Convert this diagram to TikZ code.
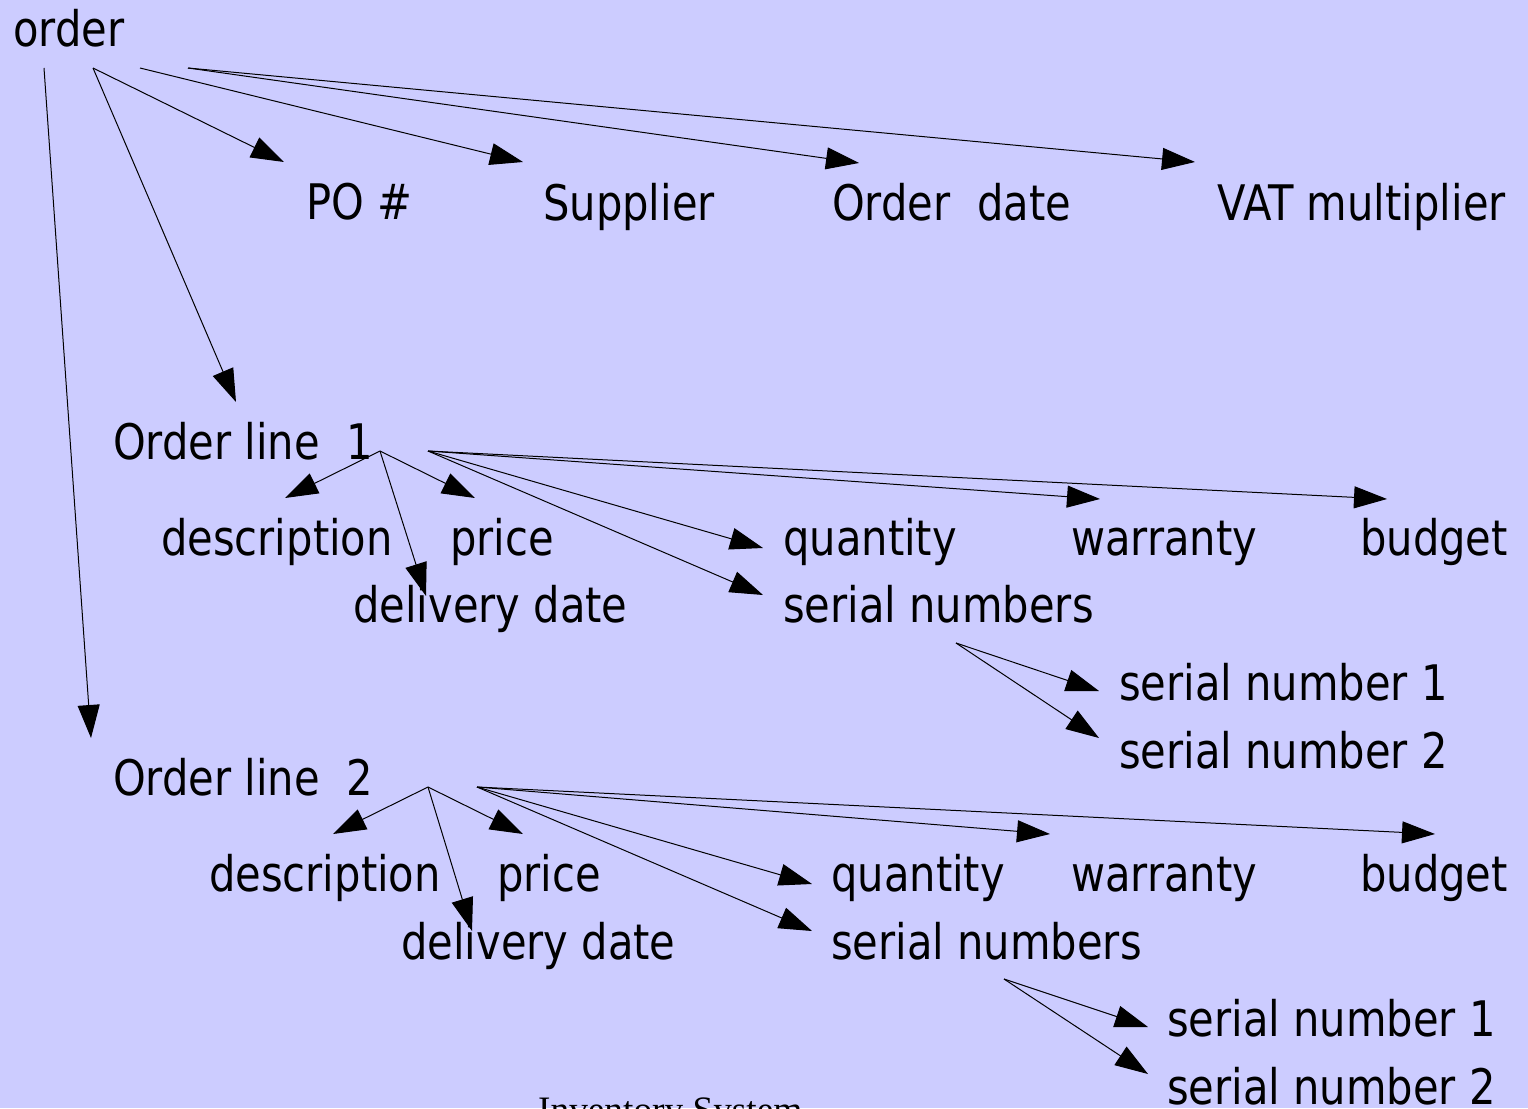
\documentclass[tikz,border=0pt]{standalone}
\usepackage{fontspec}
\setmainfont{DejaVu Sans}[FakeStretch=0.85]
\newfontfamily\seriffont{Liberation Serif}
\usetikzlibrary{arrows.meta}
\definecolor{bg}{HTML}{CCCCFF}
\begin{document}
\begin{tikzpicture}[x=1pt,y=-1pt,
  lbl/.style={anchor=base west,inner sep=0pt,font=\fontsize{49}{49}\selectfont},
  arr/.style={-{Triangle[length=33pt,width=22pt]},line width=1pt}]
\fill[bg] (0,0) rectangle (1528,1108);
\useasboundingbox (0,0) rectangle (1528,1108);
% texts
\node[lbl] (order) at (13,47) {order};
\node[lbl] (po) at (306,219) {PO \#};
\node[lbl] (sup) at (543,220) {Supplier};
\node[lbl] (odate) at (832,220) {Order\ \ date};
\node[lbl] (vat) at (1217,220) {VAT multiplier};
\node[lbl] (ol1) at (113,459) {Order line\ \ 1};
\node[lbl] (d1) at (161,555) {description};
\node[lbl] (p1) at (450,555) {price};
\node[lbl] (dd1) at (353,622) {delivery date};
\node[lbl] (q1) at (783,555) {quantity};
\node[lbl] (w1) at (1071,555) {warranty};
\node[lbl] (b1) at (1360,555) {budget};
\node[lbl] (sn1) at (783,622) {serial numbers};
\node[lbl] (sa1) at (1119,700) {serial number 1};
\node[lbl] (sb1) at (1119,768) {serial number 2};
\node[lbl] (ol2) at (113,795) {Order line\ \ 2};
\node[lbl] (d2) at (209,891) {description};
\node[lbl] (p2) at (497,891) {price};
\node[lbl] (dd2) at (401,959) {delivery date};
\node[lbl] (q2) at (831,891) {quantity};
\node[lbl] (w2) at (1071,891) {warranty};
\node[lbl] (b2) at (1360,891) {budget};
\node[lbl] (sn2) at (831,959) {serial numbers};
\node[lbl] (sa2) at (1167,1036) {serial number 1};
\node[lbl] (sb2) at (1167,1104) {serial number 2};
\node[anchor=base west,inner sep=0pt,font=\seriffont\fontsize{37.3}{37.3}\selectfont] (inv) at (538,1122) {Inventory System};
% start and tip coordinates
\coordinate (oA) at (44,68);
\coordinate (oB) at (93,68);
\coordinate (oC) at (140,68);
\coordinate (oD) at (188,68);
\coordinate (tPO) at (284,162);
\coordinate (tSup) at (523,162);
\coordinate (tOD) at (859,163);
\coordinate (tVAT) at (1195,162);
\coordinate (tOL1) at (236,402);
\coordinate (tOL2) at (91,738);
\coordinate (l1A) at (380,451);
\coordinate (l1B) at (428,451);
\coordinate (td1) at (285,498);
\coordinate (tp1) at (475,498);
\coordinate (tdd1) at (426,596);
\coordinate (tq1) at (763,548);
\coordinate (tsn1) at (763,595);
\coordinate (tw1) at (1100,499);
\coordinate (tb1) at (1387,499);
\coordinate (s1) at (956,643);
\coordinate (tsa1) at (1099,691);
\coordinate (tsb1) at (1099,738);
\coordinate (l2A) at (428,787);
\coordinate (l2B) at (477,787);
\coordinate (td2) at (333,834);
\coordinate (tp2) at (523,834);
\coordinate (tdd2) at (472,931);
\coordinate (tq2) at (812,884);
\coordinate (tsn2) at (812,931);
\coordinate (tw2) at (1050,834);
\coordinate (tb2) at (1435,834);
\coordinate (s2) at (1004,979);
\coordinate (tsa2) at (1148,1027);
\coordinate (tsb2) at (1148,1074);
% connectors
\draw[arr] (oA) -- (tOL2);
\draw[arr] (oB) -- (tOL1);
\draw[arr] (oB) -- (tPO);
\draw[arr] (oC) -- (tSup);
\draw[arr] (oD) -- (tOD);
\draw[arr] (oD) -- (tVAT);
\draw[arr] (l1A) -- (td1);
\draw[arr] (l1A) -- (tp1);
\draw[arr] (l1A) -- (tdd1);
\draw[arr] (l1B) -- (tq1);
\draw[arr] (l1B) -- (tsn1);
\draw[arr] (l1B) -- (tw1);
\draw[arr] (l1B) -- (tb1);
\draw[arr] (s1) -- (tsa1);
\draw[arr] (s1) -- (tsb1);
\draw[arr] (l2A) -- (td2);
\draw[arr] (l2A) -- (tp2);
\draw[arr] (l2A) -- (tdd2);
\draw[arr] (l2B) -- (tq2);
\draw[arr] (l2B) -- (tsn2);
\draw[arr] (l2B) -- (tw2);
\draw[arr] (l2B) -- (tb2);
\draw[arr] (s2) -- (tsa2);
\draw[arr] (s2) -- (tsb2);
\end{tikzpicture}
\end{document}
